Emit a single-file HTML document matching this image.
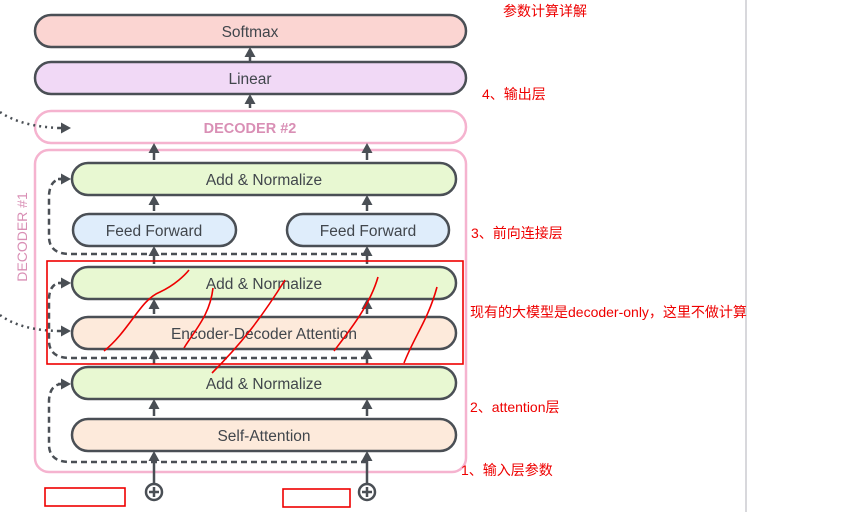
<!DOCTYPE html>
<html><head><meta charset="utf-8"><style>
html,body{margin:0;padding:0;background:#fff;width:850px;height:512px;overflow:hidden}
svg text{font-family:"Liberation Sans","Noto Sans CJK SC",sans-serif}
</style></head><body>
<svg width="850" height="512" viewBox="0 0 850 512" xmlns="http://www.w3.org/2000/svg">
<defs>
<marker id="a" markerWidth="11" markerHeight="11" refX="5" refY="5.5" orient="auto" markerUnits="userSpaceOnUse"><path d="M0,0 L10,5.5 L0,11 z" fill="#4a4f55"/></marker>
</defs>
<line x1="746" y1="0" x2="746" y2="512" stroke="#d8d8dc" stroke-width="2"/>
<g stroke="#4a4f55" stroke-width="2.5">
<rect x="35" y="15" width="431" height="32" rx="16" fill="#fbd5d2"/>
<rect x="35" y="62" width="431" height="32" rx="16" fill="#f1d9f6"/>
<rect x="72" y="163" width="384" height="32" rx="16" fill="#e8f8d2"/>
<rect x="73" y="214" width="163" height="32" rx="16" fill="#dfedfb"/>
<rect x="287" y="214" width="162" height="32" rx="16" fill="#dfedfb"/>
<rect x="72" y="267" width="384" height="32" rx="16" fill="#e8f8d2"/>
<rect x="72" y="317" width="384" height="32" rx="16" fill="#fdeadb"/>
<rect x="72" y="367" width="384" height="32" rx="16" fill="#e8f8d2"/>
<rect x="72" y="419" width="384" height="32" rx="16" fill="#fdeadb"/>
</g>
<rect x="35" y="111" width="431" height="32" rx="16" fill="#fff" stroke="#f5b3cf" stroke-width="2.5"/>
<rect x="35" y="150" width="431" height="322" rx="14" fill="none" stroke="#f5b3cf" stroke-width="2.5"/>
<g fill="#41464c" font-size="15.5" text-anchor="middle" font-weight="500">
<text x="250" y="37">Softmax</text>
<text x="250" y="84">Linear</text>
<text x="264" y="185">Add &amp; Normalize</text>
<text x="154" y="236">Feed Forward</text>
<text x="368" y="236">Feed Forward</text>
<text x="264" y="289">Add &amp; Normalize</text>
<text x="264" y="339">Encoder-Decoder Attention</text>
<text x="264" y="389">Add &amp; Normalize</text>
<text x="264" y="441">Self-Attention</text>
</g>
<text x="250" y="133" fill="#d98fb5" font-size="14.5" text-anchor="middle" font-weight="600">DECODER #2</text>
<text transform="translate(27,237) rotate(-90)" fill="#d98fb5" font-size="14" text-anchor="middle">DECODER #1</text>
<g stroke="#4a4f55" stroke-width="2.5" marker-end="url(#a)">
<line x1="250" y1="61" x2="250" y2="52"/>
<line x1="250" y1="108" x2="250" y2="99"/>
<line x1="154" y1="160" x2="154" y2="148"/><line x1="367" y1="160" x2="367" y2="148"/>
<line x1="154" y1="211" x2="154" y2="200"/><line x1="367" y1="211" x2="367" y2="200"/>
<line x1="154" y1="264" x2="154" y2="251"/><line x1="367" y1="264" x2="367" y2="251"/>
<line x1="154" y1="314" x2="154" y2="304"/><line x1="367" y1="314" x2="367" y2="304"/>
<line x1="154" y1="364" x2="154" y2="354"/><line x1="367" y1="364" x2="367" y2="354"/>
<line x1="154" y1="416" x2="154" y2="404"/><line x1="367" y1="416" x2="367" y2="404"/>
<line x1="154" y1="483" x2="154" y2="456"/><line x1="367" y1="483" x2="367" y2="456"/>
</g>
<g stroke="#4a4f55" stroke-width="2.5" fill="none" stroke-dasharray="6,4">
<path d="M367,254 L70,254 Q50,254 49,238 L49,195 Q50,180 61,179"/>
<path d="M367,358 L70,358 Q50,358 49,342 L49,298 Q50,283 61,283"/>
<path d="M367,462 L70,462 Q50,462 49,446 L49,400 Q50,385 61,384"/>
</g>
<g stroke="#4a4f55" stroke-width="2.5" marker-end="url(#a)">
<line x1="58" y1="179" x2="66" y2="179"/><line x1="58" y1="283" x2="66" y2="283"/><line x1="58" y1="384" x2="66" y2="384"/>
</g>
<g stroke="#4a4f55" stroke-width="2.5" fill="none" stroke-dasharray="2,4">
<path d="M0,112 Q20,126 58,128"/>
<path d="M0,315 Q20,330 58,331"/>
</g>
<g stroke="#4a4f55" stroke-width="2.5" marker-end="url(#a)">
<line x1="58" y1="128" x2="66" y2="128"/><line x1="58" y1="331" x2="66" y2="331"/>
</g>
<g stroke="#4a4f55" stroke-width="2.5" fill="#fff">
<circle cx="154" cy="492" r="8"/><circle cx="367" cy="492" r="8"/>
<path d="M149,492h10M154,487v10M362,492h10M367,487v10"/>
</g>
<g fill="none" stroke="#ee0000" stroke-width="1.6">
<rect x="47" y="261" width="416" height="103"/>
<rect x="45" y="488" width="80" height="18"/>
<rect x="283" y="489" width="67" height="18"/>
<path d="M104,351 C130,330 140,300 160,292 C175,285 185,275 189,270"/>
<path d="M184,348 C195,330 210,315 213,288"/>
<path d="M212,373 C240,345 260,320 285,280"/>
<path d="M334,351 C350,330 370,305 378,277"/>
<path d="M404,363 C415,335 428,320 437,287"/>
</g>
<g fill="#ee0000" font-size="14">
<text x="503" y="16">参数计算详解</text>
<text x="482" y="99">4、输出层</text>
<text x="471" y="238">3、前向连接层</text>
<text x="470" y="317">现有的大模型是decoder-only，这里不做计算</text>
<text x="470" y="412">2、attention层</text>
<text x="461" y="475">1、输入层参数</text>
</g>
</svg>
</body></html>
